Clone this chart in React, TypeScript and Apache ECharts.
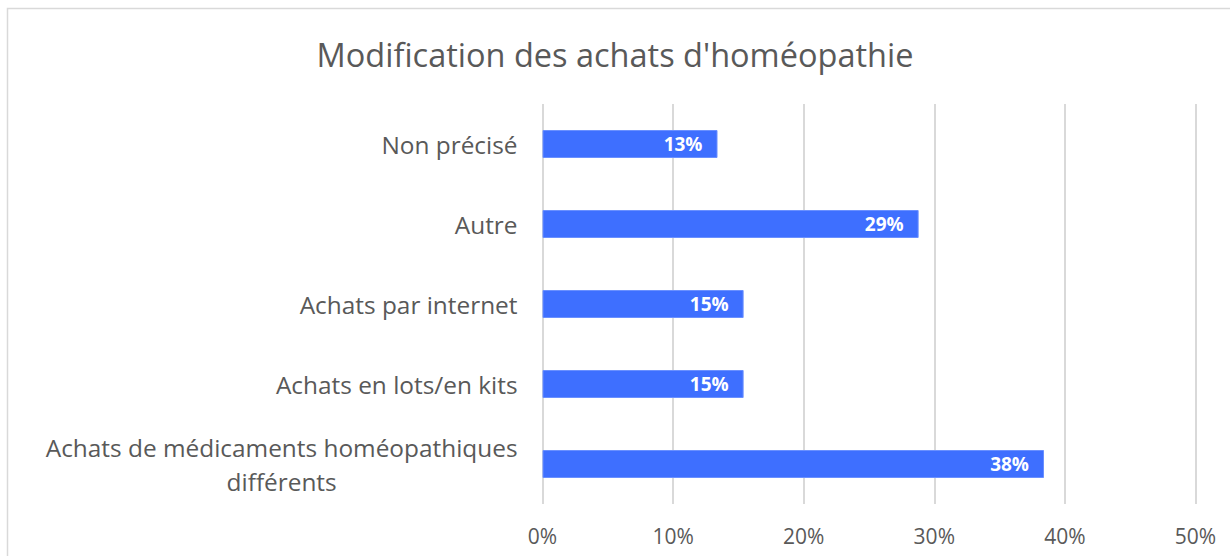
import React, { useEffect, useRef } from "react";
import * as echarts from "echarts";

const title = "Modification des achats d'homéopathie";
const categories = [
  "Non précisé",
  "Autre",
  "Achats par internet",
  "Achats en lots/en kits",
  "Achats de médicaments homéopathiques\ndifférents",
];
const values = [13.4, 28.8, 15.4, 15.4, 38.4];
const xTicks = { min: 0, max: 50, interval: 10 };

const FONT = "'Open Sans', 'Liberation Sans', sans-serif";
const GRAY = "#595959";

export default function App() {
  const ref = useRef<HTMLDivElement>(null);
  useEffect(() => {
    if (!ref.current) return;
    const chart = echarts.init(ref.current, null, { renderer: "svg" });
    chart.setOption({
      animation: false,
      backgroundColor: "#ffffff",
      textStyle: { fontFamily: FONT },
      title: {
        text: title,
        left: "center",
        top: 33,
        textStyle: { fontFamily: FONT, fontSize: 32.5, fontWeight: "normal", color: GRAY },
      },
      graphic: [
        {
          type: "rect",
          shape: { x: 7.5, y: 8.5, width: 1260, height: 600 },
          style: { fill: "none", stroke: "#d9d9d9", lineWidth: 1.5 },
          silent: true,
        },
      ],
      grid: { left: 542.5, right: 34.5, top: 104, bottom: 52, containLabel: false },
      xAxis: {
        type: "value",
        min: xTicks.min,
        max: xTicks.max,
        interval: xTicks.interval,
        axisLine: { show: false },
        axisTick: { show: false },
        splitLine: { show: true, lineStyle: { color: "#d9d9d9", width: 2 } },
        axisLabel: {
          formatter: "{value}%",
          fontFamily: FONT,
          fontSize: 21,
          color: GRAY,
          margin: 21,
        },
      },
      yAxis: {
        type: "category",
        inverse: true,
        data: categories,
        axisLine: { show: false },
        axisTick: { show: false },
        axisLabel: {
          fontFamily: FONT,
          fontSize: 24.4,
          color: GRAY,
          margin: 25,
          lineHeight: 34,
          formatter: (v: string) =>
            v
              .split("\n")
              .map((l) => `{c|${l}}`)
              .join("\n"),
          rich: {
            c: {
              fontFamily: FONT,
              fontSize: 24.4,
              color: GRAY,
              lineHeight: 34,
              align: "center",
            },
          },
        },
      },
      series: [
        {
          type: "bar",
          data: values,
          barWidth: "35%",
          itemStyle: { color: "#3E6FFF", borderColor: "#6A90FF", borderWidth: 1 },
          label: {
            show: true,
            position: "insideRight",
            distance: 15,
            color: "#ffffff",
            fontFamily: FONT,
            fontWeight: "bold",
            fontSize: 19,
            formatter: (p: any) => `${Math.round(p.value)}%`,
          },
        },
      ],
    });
    return () => chart.dispose();
  }, []);
  return (
    <div
      ref={ref}
      style={{ position: "absolute", left: 0, top: 0, width: 1230, height: 556 }}
    />
  );
}
